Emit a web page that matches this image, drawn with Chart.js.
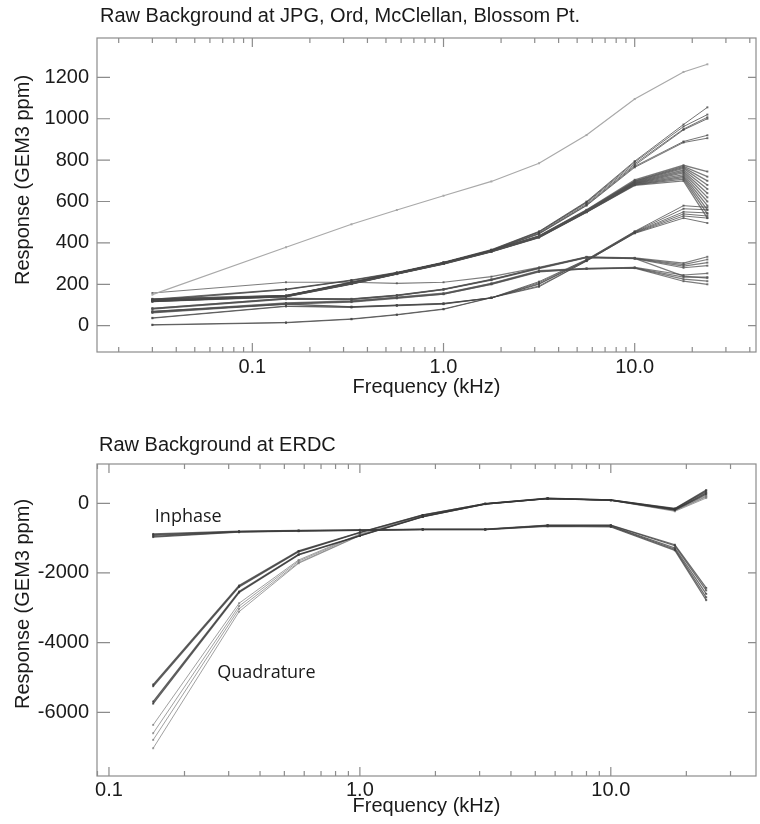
<!DOCTYPE html>
<html>
<head>
  <title>Raw Background</title>
  <style>
    body { margin: 0; background: #fff; }
    .box { position: relative; width: 760px; }
    #topBox { height: 410px; }
    #bottomBox { height: 414px; }
  </style>
</head>
<body>
  <div class="box" id="topBox"><canvas id="topChart" width="760" height="410"></canvas></div>
  <div class="box" id="bottomBox"><canvas id="bottomChart" width="760" height="414"></canvas></div>

  <script src="https://cdn.jsdelivr.net/npm/chart.js"></script>
  <script>
    // ---- top panel: JPG, Ord, McClellan, Blossom Pt. ----
    const topFreq = [0.03, 0.15, 0.33, 0.57, 1.0, 1.78, 3.16, 5.6, 10.0, 18.0, 24.0];
    const topLight = [150, 379, 490, 559, 628, 697, 785, 921, 1095, 1226, 1263];
    const topHigh = [
      [128, 177, 221, 258, 307, 368, 456, 600, 795, 972, 1055],
      [125, 175, 219, 256, 305, 366, 454, 597, 790, 962, 1020],
      [122, 174, 218, 255, 304, 365, 452, 594, 782, 950, 1007],
      [120, 145, 212, 256, 305, 364, 448, 588, 775, 946, 1000],
      [118, 144, 210, 255, 304, 363, 445, 583, 770, 890, 920],
      [116, 143, 209, 254, 303, 362, 443, 580, 765, 885, 906]
    ];
    const topBundle = [
      [130, 146, 207, 255, 304, 363, 434, 560, 705, 775, 745],
      [128, 145, 206, 254, 303, 362, 433, 558, 700, 770, 720],
      [126, 145, 206, 254, 303, 362, 432, 557, 698, 765, 700],
      [125, 144, 205, 253, 302, 361, 432, 556, 695, 760, 680],
      [124, 144, 205, 253, 302, 361, 431, 555, 692, 752, 660],
      [123, 143, 204, 252, 301, 360, 430, 554, 690, 745, 640],
      [122, 143, 204, 252, 301, 360, 430, 553, 688, 738, 620],
      [121, 142, 203, 251, 300, 359, 429, 552, 686, 730, 600],
      [120, 142, 203, 251, 300, 359, 428, 551, 684, 722, 580],
      [119, 141, 202, 250, 299, 358, 428, 550, 682, 715, 560],
      [118, 141, 202, 250, 299, 358, 427, 549, 680, 708, 540],
      [117, 140, 201, 249, 298, 357, 426, 548, 678, 700, 520]
    ];
    const topPlateau = [
      [158, 210, 210, 205, 210, 237, 282, 333, 328, 302, 333],
      [84, 132, 130, 148, 177, 224, 280, 331, 326, 295, 320],
      [82, 130, 128, 146, 175, 222, 278, 330, 325, 288, 305],
      [80, 128, 126, 145, 174, 220, 276, 329, 324, 280, 290],
      [84, 132, 128, 147, 176, 223, 279, 330, 325, 240, 230],
      [68, 110, 120, 138, 157, 205, 266, 277, 282, 245, 253],
      [66, 108, 118, 136, 155, 203, 264, 276, 280, 235, 235],
      [64, 106, 116, 134, 153, 201, 262, 275, 279, 225, 215],
      [62, 104, 114, 132, 152, 200, 260, 274, 278, 215, 200]
    ];
    const topRising = [
      [70, 105, 92, 100, 108, 135, 213, 320, 456, 580, 572],
      [68, 103, 91, 99, 107, 135, 208, 318, 454, 565, 560],
      [38, 95, 90, 98, 106, 134, 203, 316, 452, 550, 545],
      [36, 93, 88, 96, 104, 134, 200, 315, 450, 540, 530],
      [3, 14, 31, 52, 79, 135, 188, 312, 448, 530, 520],
      [5, 16, 33, 54, 81, 136, 192, 313, 446, 520, 496]
    ];
    const topYTicks = [0, 200, 400, 600, 800, 1000, 1200];

    // ---- bottom panel: ERDC ----
    const erdcFreq = [0.15, 0.33, 0.57, 1.0, 1.78, 3.16, 5.6, 10.0, 18.0, 24.0];
    const inphase = [
      [-880, -800, -780, -760, -740, -740, -625, -625, -1190, -2430],
      [-900, -810, -786, -766, -746, -746, -631, -631, -1220, -2500],
      [-920, -815, -790, -770, -750, -750, -640, -650, -1280, -2600],
      [-950, -820, -795, -775, -755, -755, -650, -665, -1320, -2700],
      [-970, -830, -800, -780, -760, -760, -660, -680, -1350, -2780]
    ];
    const quadrature = [
      [-5204, -2364, -1369, -833, -336, -10, 143, 95, -150, 380],
      [-5250, -2400, -1390, -840, -340, -12, 140, 93, -160, 340],
      [-5692, -2536, -1464, -929, -384, -20, 135, 90, -180, 300],
      [-5750, -2560, -1480, -935, -390, -22, 133, 88, -190, 260],
      [-6362, -2870, -1627, -880, -360, -15, 138, 92, -170, 220],
      [-6600, -2950, -1660, -900, -370, -18, 136, 90, -200, 200],
      [-6792, -3030, -1700, -920, -380, -20, 134, 88, -210, 180],
      [-7031, -3111, -1722, -930, -385, -25, 130, 85, -230, 150]
    ];
    const erdcYTicks = [-6000, -4000, -2000, 0];

    const majorLabels = { 0.1: '0.1', 1: '1.0', 10: '10.0' };
    const FONT = 'Liberation Sans, Arial, sans-serif';

    // log tick positions 1..9 x 10^n inside [min, max]
    function logTicks(min, max) {
      const out = [];
      for (let e = -3; e <= 3; e++) {
        for (let m = 1; m <= 9; m++) {
          const v = +(m * Math.pow(10, e)).toPrecision(3);
          if (v >= min && v <= max) out.push(v);
        }
      }
      return out;
    }

    function series(freq, rows, color, width) {
      return rows.map(r => ({
        data: r.map((v, i) => ({ x: freq[i], y: v })),
        borderColor: color,
        backgroundColor: color,
        borderWidth: width,
        pointStyle: 'rect',
        pointRadius: 1.4,
        pointBorderWidth: 0
      }));
    }

    // frame, inward ticks, and the free texts
    const framePlugin = {
      id: 'frame',
      afterDraw(chart, args, o) {
        const { ctx, chartArea: a, scales: { x, y } } = chart;
        ctx.save();
        ctx.strokeStyle = '#8c8c8c';
        ctx.lineWidth = 1.2;
        ctx.strokeRect(a.left, a.top, a.right - a.left, a.bottom - a.top);
        ctx.beginPath();
        x.ticks.forEach(t => {
          const px = x.getPixelForValue(t.value);
          const len = majorLabels[t.value] ? 9 : 5;
          ctx.moveTo(px, a.bottom); ctx.lineTo(px, a.bottom - len);
          ctx.moveTo(px, a.top); ctx.lineTo(px, a.top + len);
        });
        y.ticks.forEach(t => {
          const py = y.getPixelForValue(t.value);
          ctx.moveTo(a.left, py); ctx.lineTo(a.left + 13, py);
          ctx.moveTo(a.right, py); ctx.lineTo(a.right - 8, py);
        });
        ctx.stroke();

        ctx.fillStyle = '#1a1a1a';
        ctx.font = '20px ' + FONT;
        ctx.textBaseline = 'middle';
        ctx.textAlign = 'left';
        ctx.fillText(o.title, o.titleX, o.titleY);

        ctx.save();
        ctx.translate(23, o.yTitleY);
        ctx.rotate(-Math.PI / 2);
        ctx.textAlign = 'center';
        ctx.fillText('Response (GEM3 ppm)', 0, 0);
        ctx.restore();

        ctx.font = '18px Open Sans, sans-serif';
        ctx.textAlign = 'center';
        (o.notes || []).forEach(n => {
          ctx.fillText(n.text, x.getPixelForValue(n.x), y.getPixelForValue(n.y));
        });
        ctx.restore();
      }
    };

    function makeOptions(xMin, xMax, yMin, yMax, yTicks, axisH, tickPad, titlePad, frameOpts) {
      return {
        responsive: false,
        animation: false,
        layout: { padding: { top: frameOpts.top, right: 1, left: 0, bottom: 0 } },
        plugins: { legend: { display: false }, tooltip: { enabled: false }, frame: frameOpts },
        scales: {
          x: {
            type: 'logarithmic',
            min: xMin, max: xMax,
            grid: { display: false, drawTicks: false },
            border: { display: false },
            afterBuildTicks: s => { s.ticks = logTicks(xMin, xMax).map(v => ({ value: v })); },
            afterFit: s => { s.height = axisH; },
            ticks: {
              autoSkip: false, maxRotation: 0, padding: tickPad,
              color: '#1a1a1a', font: { family: FONT, size: 20 },
              callback: v => majorLabels[v] || ''
            },
            title: {
              display: true, text: 'Frequency (kHz)', color: '#1a1a1a',
              font: { family: FONT, size: 20 }, padding: { top: 0, bottom: titlePad }
            }
          },
          y: {
            min: yMin, max: yMax,
            grid: { display: false, drawTicks: false },
            border: { display: false },
            afterBuildTicks: s => { s.ticks = yTicks.map(v => ({ value: v })); },
            afterFit: s => { s.width = 97; },
            ticks: {
              padding: 8, color: '#1a1a1a', font: { family: FONT, size: 20 },
              callback: v => String(v)
            }
          }
        }
      };
    }

    new Chart(document.getElementById('topChart'), {
      type: 'line',
      data: {
        datasets: [
          ...series(topFreq, [topLight], '#a9a9a9', 1.2),
          ...series(topFreq, topHigh, 'rgba(70,70,70,0.75)', 1),
          ...series(topFreq, topBundle, 'rgba(80,80,80,0.75)', 1.3),
          ...series(topFreq, topPlateau, 'rgba(80,80,80,0.75)', 1.2),
          ...series(topFreq, topRising, 'rgba(70,70,70,0.75)', 1)
        ]
      },
      options: makeOptions(0.0154, 43.1, -127, 1390, topYTicks, 58, 3, 11, {
        top: 38, title: 'Raw Background at JPG, Ord, McClellan, Blossom Pt.',
        titleX: 100, titleY: 16, yTitleY: 180
      }),
      plugins: [framePlugin]
    });

    new Chart(document.getElementById('bottomChart'), {
      type: 'line',
      data: {
        datasets: [
          ...series(erdcFreq, inphase, 'rgba(60,60,60,0.75)', 1.2),
          ...series(erdcFreq, quadrature.slice(0, 4), 'rgba(55,55,55,0.8)', 1.4),
          ...series(erdcFreq, quadrature.slice(4), 'rgba(120,120,120,0.7)', 1)
        ]
      },
      options: makeOptions(0.0896, 37.9, -7828, 1128, erdcYTicks, 48, 2, 6, {
        top: 54, title: 'Raw Background at ERDC',
        titleX: 99, titleY: 35, yTitleY: 194,
        notes: [
          { text: 'Inphase', x: 0.207, y: -393 },
          { text: 'Quadrature', x: 0.424, y: -4870 }
        ]
      }),
      plugins: [framePlugin]
    });
  </script>
</body>
</html>
